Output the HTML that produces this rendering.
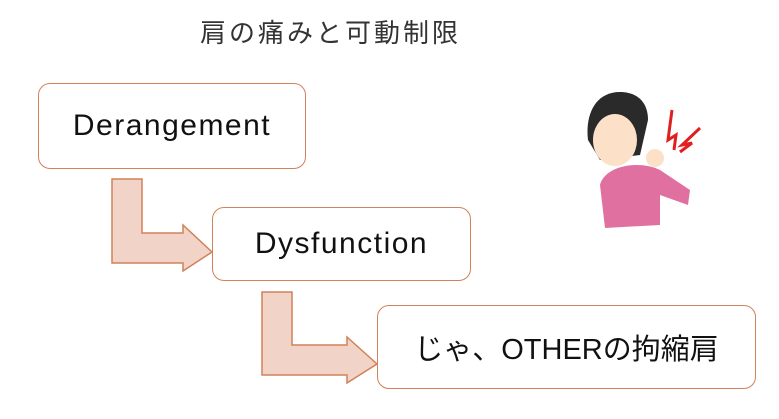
<!DOCTYPE html>
<html><head><meta charset="utf-8"><style>
body{margin:0;width:779px;height:419px;background:#fff;overflow:hidden;position:relative;font-family:"Liberation Sans","Noto Sans CJK JP",sans-serif;}
.t{position:absolute;left:200px;top:13px;font-size:26px;letter-spacing:3px;color:#333;}
.b{position:absolute;border:1.5px solid #d08258;border-radius:12px;background:#fff;display:flex;align-items:center;justify-content:center;color:#111;box-sizing:border-box;}
</style></head><body>
<div class="t">肩の痛みと可動制限</div>
<svg width="779" height="419" style="position:absolute;left:0;top:0">
<path d="M112,179 H142 V233 H183 V225 L212,252 L183,271 V263 H112 Z" fill="#f2d3c7" stroke="#d08258" stroke-width="1.5"/>
<path d="M262,292 H292 V345 H347 V337 L377,364 L347,383 V375 H262 Z" fill="#f2d3c7" stroke="#d08258" stroke-width="1.5"/>
<path d="M620,92 C595,92 585,115 588,140 L600,160 L640,155 L648,120 C648,100 635,92 620,92Z" fill="#2a2a2a"/>
<ellipse cx="615" cy="140" rx="22" ry="26" fill="#fde0c8"/>
<path d="M600,185 C605,165 640,160 660,170 L690,190 L688,205 L660,195 L660,225 L605,228 Z" fill="#e070a0"/>
<circle cx="655" cy="158" r="9" fill="#fde0c8"/>
<path d="M672,110 L668,140 L676,135 L674,150" stroke="#e02020" stroke-width="3" fill="none"/>
<path d="M700,128 L682,145 L692,143 L680,152" stroke="#e02020" stroke-width="3" fill="none"/>
</svg>
<div class="b" style="left:38px;top:83px;width:268px;height:86px;font-size:30px;letter-spacing:1.5px">Derangement</div>
<div class="b" style="left:212px;top:207px;width:259px;height:74px;font-size:30px;letter-spacing:1.5px">Dysfunction</div>
<div class="b" style="left:377px;top:305px;width:379px;height:84px;font-size:29px">じゃ、OTHERの拘縮肩</div>
</body></html>
